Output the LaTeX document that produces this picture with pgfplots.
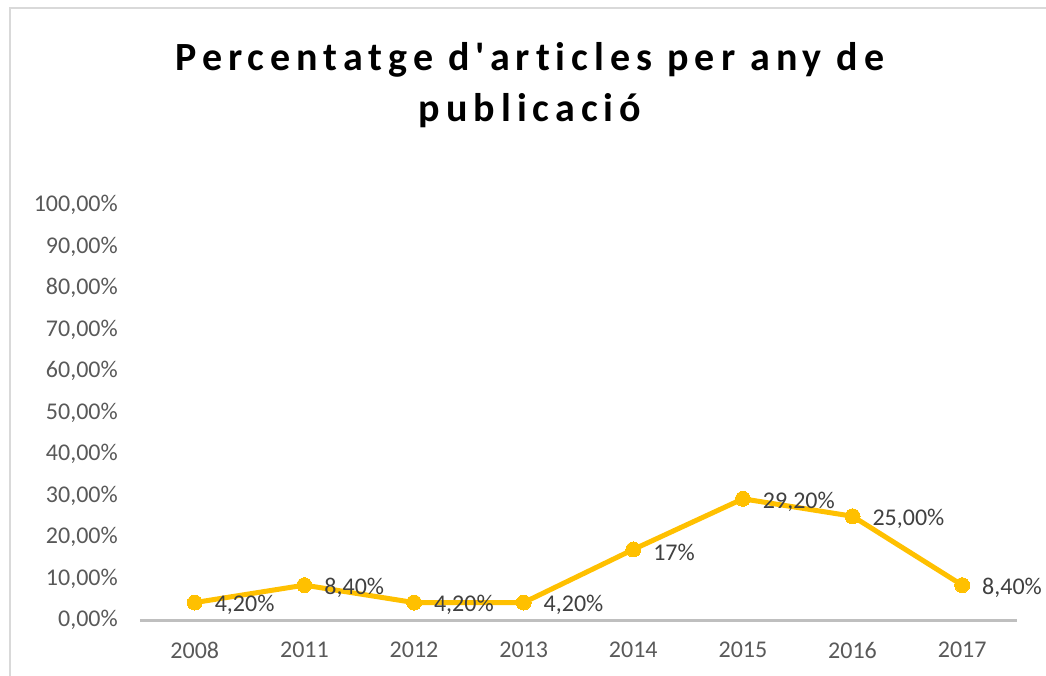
\documentclass[border=0pt]{standalone}
\usepackage{fontspec}
\setmainfont{Carlito}
\newfontfamily\titlefont[LetterSpace=15, Ligatures={TeXOff,NoCommon}]{Carlito}
\usepackage{pgfplots}
\pgfplotsset{compat=1.18}
\definecolor{gold}{HTML}{FFC000}
\definecolor{ticktxt}{HTML}{595959}
\definecolor{lbltxt}{HTML}{404040}
\definecolor{axisgray}{HTML}{BFBFBF}
\definecolor{framegray}{HTML}{D9D9D9}

\pgfplotstableread{
x y lab
0 4.2 4,20\%
1 8.4 8,40\%
2 4.2 4,20\%
3 4.2 4,20\%
4 17 17\%
5 29.2 29,20\%
6 25 25,00\%
7 8.4 8,40\%
}\datatable

\begin{document}
\begin{tikzpicture}[x=1pt,y=1pt]
\path[use as bounding box] (-105,-41.25) rectangle (679.5,465);
\draw[framegray, line width=1.5pt] (-97.5,-60) -- (-97.5,459) -- (700,459);
\node[anchor=base, font=\titlefont\bfseries\fontsize{30}{36}\selectfont] at (292.5,411.75) {Percentatge d'articles per any de};
\node[anchor=base, font=\titlefont\bfseries\fontsize{30}{36}\selectfont] at (292.5,373.5) {publicació};
\begin{axis}[
  at={(0,0)}, anchor=south west,
  scale only axis, width=657.75pt, height=311.25pt,
  xmin=-0.5, xmax=7.5, ymin=0, ymax=100,
  axis line style={draw=none},
  major tick length=0pt,
  xtick={0,...,7},
  xticklabels={2008,2011,2012,2013,2014,2015,2016,2017},
  ytick={0,10,...,100},
  yticklabels={{0,00\%},{10,00\%},{20,00\%},{30,00\%},{40,00\%},{50,00\%},{60,00\%},{70,00\%},{80,00\%},{90,00\%},{100,00\%}},
  tick label style={font=\fontsize{18}{22}\selectfont, text=ticktxt, inner sep=0pt},
  xticklabel shift=16.5pt,
  yticklabel shift=16.5pt,
  clip=false,
]
\draw[axisgray, line width=2.25pt] (axis cs:-0.5,0) -- (axis cs:7.5,0);
\addplot[gold, line width=3.75pt, mark=*, mark size=5.6pt,
  mark options={fill=gold, draw=gold, line width=0pt},
  nodes near coords, point meta=explicit symbolic,
  every node near coord/.append style={anchor=west, xshift=15pt, yshift=-2pt,
    font=\fontsize{18}{22}\selectfont, text=lbltxt, inner sep=0pt}
] table[x=x, y=y, meta=lab] {\datatable};
\end{axis}
\end{tikzpicture}
\end{document}
